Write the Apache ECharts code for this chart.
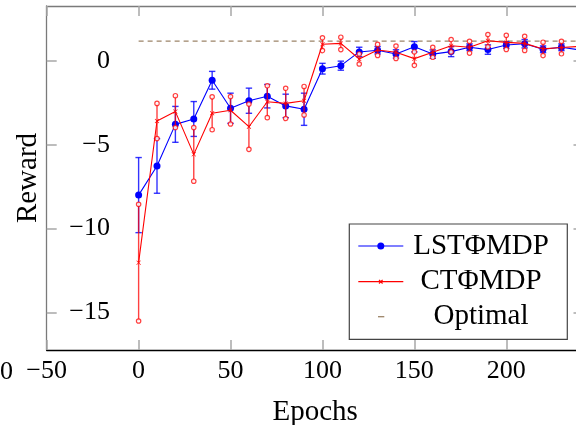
<!DOCTYPE html>
<html>
<head>
<meta charset="utf-8">
<script src="https://cdn.jsdelivr.net/npm/echarts@6/dist/echarts.min.js"></script>
<style>html,body{margin:0;padding:0;background:#fff}#c{width:576px;height:425px}</style>
</head>
<body>
<div id="c"></div>
<script>
const epochs = [0,10,20,30,40,50,60,70,80,90,100,110,120,130,140,150,160,170,180,190,200,210,220,230,240];
const lstMean = [-8.0,-6.26,-3.78,-3.46,-1.15,-2.82,-2.37,-2.1,-2.68,-2.88,-0.46,-0.28,0.54,0.64,0.42,0.85,0.41,0.56,0.82,0.68,0.95,1.03,0.70,0.82,0.66];
const lstErr  = [2.24,1.63,1.07,1.04,0.53,0.9,0.75,0.7,0.7,0.96,0.32,0.27,0.28,0.22,0.25,0.31,0.25,0.3,0.2,0.28,0.2,0.25,0.2,0.2,0.2];
const ctMean  = [-12.03,-3.58,-3.02,-5.57,-3.12,-2.94,-3.92,-2.43,-2.53,-2.37,1.0,1.05,0.12,0.66,0.52,0.14,0.52,0.91,0.82,1.21,1.11,1.05,0.72,0.8,0.87];
const ctErr   = [3.48,1.05,0.95,1.6,0.98,0.82,1.35,0.95,0.9,0.85,0.38,0.37,0.3,0.33,0.37,0.4,0.3,0.37,0.35,0.37,0.42,0.42,0.4,0.37,0.37];
const optimalValue = 1.18;
const optimalEpochs = [0, 240];
const xTicks = [-50,0,50,100,150,200];
const yTicks = [-15,-10,-5,0];
const seriesNames = ['LSTΦMDP','CTΦMDP','Optimal'];

const FONT = 'Liberation Serif';
const fmt = v => v < 0 ? '\u2212' + (-v) : String(v);
const BLUE = '#0000ff', RED = '#ff0000', TAN = '#9c8468';

function errSeries(means, errs, color, kind, z) {
  return {
    type: 'custom', z: z, silent: true, clip: true,
    data: epochs.map((e,i) => [e, means[i], errs[i]]),
    renderItem: function (params, api) {
      const x = api.value(0), m = api.value(1), e = api.value(2);
      const t = api.coord([x, m + e]), b = api.coord([x, m - e]);
      const st = {stroke: color, lineWidth: 1.4};
      const ch = [{type:'line', shape:{x1:t[0],y1:t[1],x2:b[0],y2:b[1]}, style:st}];
      if (kind === 'cap') {
        ch.push({type:'line', shape:{x1:t[0]-3.2,y1:t[1],x2:t[0]+3.2,y2:t[1]}, style:st});
        ch.push({type:'line', shape:{x1:b[0]-3.2,y1:b[1],x2:b[0]+3.2,y2:b[1]}, style:st});
      } else {
        ch.push({type:'circle', shape:{cx:t[0],cy:t[1],r:2.2}, style:{stroke:color,lineWidth:1.2,fill:'rgba(255,255,255,0.85)'}});
        ch.push({type:'circle', shape:{cx:b[0],cy:b[1],r:2.2}, style:{stroke:color,lineWidth:1.2,fill:'rgba(255,255,255,0.85)'}});
      }
      return {type:'group', children: ch};
    }
  };
}

const xSym = 'path://M0,1L1,0L5,4L9,0L10,1L6,5L10,9L9,10L5,6L1,10L0,9L4,5Z';
const tickStyle = {color:'#a8a8a8', width:1.5};
const labelFont = {fontFamily: FONT, fontSize: 26, color: '#000'};
const legendFont = '29px "' + FONT + '"';

const chart = echarts.init(document.getElementById('c'), null, {renderer:'canvas'});
chart.setOption({
  animation: false,
  backgroundColor: '#fff',
  grid: {left: 46.7, right: -7.5, top: 6, bottom: 75, containLabel: false, outerBoundsMode: 'none'},
  xAxis: [
    {type:'value', min:-50, max:242, position:'bottom',
     axisLine:{show:true, onZero:false, lineStyle:{color:'#000', width:1.3}},
     axisTick:{show:true, inside:true, length:10, customValues: xTicks, lineStyle: tickStyle},
     axisLabel:Object.assign({customValues: xTicks, margin: 8, formatter: fmt}, labelFont),
     splitLine:{show:false},
     name:'Epochs', nameLocation:'middle', nameGap:48, nameMoveOverlap:false,
     nameTextStyle:{fontFamily: FONT, fontSize: 29, color:'#000'}},
    {type:'value', min:-50, max:242, position:'top',
     axisLine:{show:true, onZero:false, lineStyle:{color:'#7a7a7a', width:1.3}},
     axisTick:{show:true, inside:true, length:10, customValues: xTicks, lineStyle: tickStyle},
     axisLabel:{show:false}, splitLine:{show:false}}
  ],
  yAxis: [
    {type:'value', min:-17.24, max:3.28, position:'left',
     axisLine:{show:true, onZero:false, lineStyle:{color:'#7a7a7a', width:1.3}},
     axisTick:{show:true, inside:true, length:10, customValues: yTicks, lineStyle: tickStyle},
     axisLabel:Object.assign({customValues: yTicks, margin: -63.3, formatter: fmt, align:'right'}, labelFont),
     splitLine:{show:false},
     name:'Reward', nameLocation:'middle', nameGap:4, nameMoveOverlap:false,
     nameTextStyle:{fontFamily: FONT, fontSize: 29, color:'#000'}},
    {type:'value', min:-17.24, max:3.28, position:'right',
     axisLine:{show:true, onZero:false, lineStyle:{color:'#7a7a7a', width:1.3}},
     axisTick:{show:true, inside:true, length:10, customValues: yTicks, lineStyle: tickStyle},
     axisLabel:{show:false}, splitLine:{show:false}}
  ],
  series: [
    {name: seriesNames[2], type:'line', z:1, symbol:'none', silent:true,
     data: optimalEpochs.map(e => [e, optimalValue]),
     lineStyle:{color: TAN, width:1.3, type:[5,4]}},
    errSeries(lstMean, lstErr, 'rgba(0,0,255,0.8)', 'cap', 2),
    {name: seriesNames[0], type:'line', z:3, silent:true,
     data: epochs.map((e,i) => [e, lstMean[i]]),
     symbol:'circle', symbolSize:7, itemStyle:{color: BLUE},
     lineStyle:{color: BLUE, width:1.1}},
    errSeries(ctMean, ctErr, 'rgba(255,0,0,0.75)', 'circ', 4),
    {name: seriesNames[1], type:'line', z:5, silent:true,
     data: epochs.map((e,i) => [e, ctMean[i]]),
     symbol: xSym, symbolSize:4.5, itemStyle:{color: RED},
     lineStyle:{color: RED, width:1.1}}
  ],
  graphic: [
    {type:'text', x: 0, y: 359, z: 10, style:{text:'0', font: '26px "' + FONT + '"', fill:'#000'}},
    {type:'rect', z: 100, shape:{x:349.3, y:224, width:218, height:115.3}, style:{fill:'#fff', stroke:'#444', lineWidth:1.2}},
    {type:'line', z: 101, shape:{x1:358.3,y1:246,x2:403.3,y2:246}, style:{stroke:BLUE, lineWidth:1.2}},
    {type:'circle', z: 102, shape:{cx:380.8, cy:246, r:3.5}, style:{fill:BLUE}},
    {type:'text', z: 101, x:481, y:246, style:{text: seriesNames[0], font: legendFont, fill:'#000', align:'center', verticalAlign:'middle'}},
    {type:'line', z: 101, shape:{x1:358.3,y1:281.7,x2:403.3,y2:281.7}, style:{stroke:RED, lineWidth:1.2}},
    {type:'line', z: 102, shape:{x1:379,y1:279.9,x2:382.6,y2:283.5}, style:{stroke:RED, lineWidth:1.2}},
    {type:'line', z: 102, shape:{x1:382.6,y1:279.9,x2:379,y2:283.5}, style:{stroke:RED, lineWidth:1.2}},
    {type:'text', z: 101, x:481, y:281.7, style:{text: seriesNames[1], font: legendFont, fill:'#000', align:'center', verticalAlign:'middle'}},
    {type:'line', z: 101, shape:{x1:378,y1:316.7,x2:384.3,y2:316.7}, style:{stroke:TAN, lineWidth:1.3}},
    {type:'text', z: 101, x:481, y:316.7, style:{text: seriesNames[2], font: legendFont, fill:'#000', align:'center', verticalAlign:'middle'}}
  ]
});
</script>
</body>
</html>
